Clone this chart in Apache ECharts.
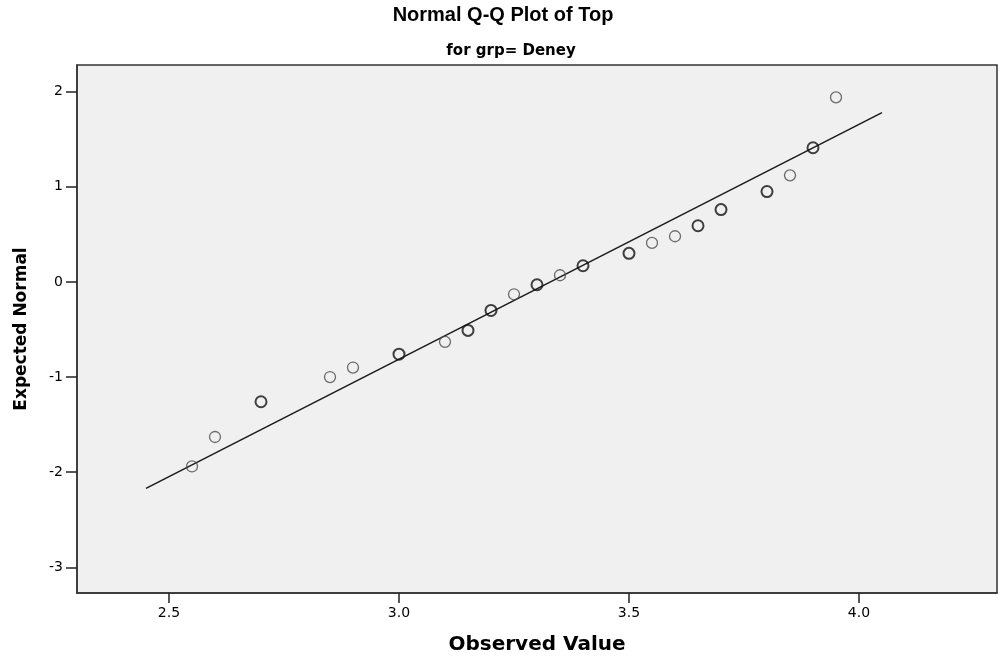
<!DOCTYPE html>
<html>
<head>
<meta charset="utf-8">
<script src="https://cdn.jsdelivr.net/npm/echarts@6/dist/echarts.min.js"></script>
<style>
  html, body { margin: 0; padding: 0; background: #ffffff; }
  #chart { width: 1000px; height: 666px; }
</style>
</head>
<body>
<div id="chart"></div>
<script>
// Observed values of Top (grp = Deney) and their expected normal scores
const observed = [2.55, 2.60, 2.70, 2.85, 2.90, 3.00, 3.10, 3.15, 3.20, 3.25, 3.30,
                  3.35, 3.40, 3.50, 3.55, 3.60, 3.65, 3.70, 3.80, 3.85, 3.90, 3.95];
const expectedNormal = [-1.94, -1.63, -1.26, -1.00, -0.90, -0.76, -0.63, -0.51, -0.30, -0.13, -0.03,
                        0.07, 0.17, 0.30, 0.41, 0.48, 0.59, 0.76, 0.95, 1.12, 1.41, 1.94];
// How many cases share each observed value (tied cases overprint and look darker)
const tieCount = [1, 1, 2, 1, 1, 2, 1, 2, 2, 1, 2,
                  1, 2, 2, 1, 1, 2, 2, 2, 1, 2, 1];

// Reference line end points
const refLineX = [2.45, 4.05];
const refLineY = [-2.17, 1.78];

// Tick labels
const xTicks = [2.5, 3.0, 3.5, 4.0];
const yTicks = [-3, -2, -1, 0, 1, 2];

const pointData = observed.map((x, i) => ({
  value: [x, expectedNormal[i]],
  itemStyle: {
    borderColor: tieCount[i] > 1 ? '#111111' : '#4a4a4a',
    borderWidth: tieCount[i] > 1 ? 2 : 1.3
  }
}));
const lineData = refLineX.map((x, i) => [x, refLineY[i]]);

const chart = echarts.init(document.getElementById('chart'), null, { renderer: 'canvas' });
const arial = 'Arial, "Liberation Sans", sans-serif';
const dejavu = '"DejaVu Sans", Verdana, sans-serif';

chart.setOption({
  animation: false,
  backgroundColor: '#ffffff',
  title: [
    {
      text: 'Normal Q-Q Plot of Top',
      left: 498, top: 0, textAlign: 'center',
      textStyle: { fontFamily: arial, fontWeight: 'bold', fontSize: 20, color: '#000' }
    },
    {
      text: 'for grp= Deney',
      left: 506, top: 39, textAlign: 'center',
      textStyle: { fontFamily: dejavu, fontWeight: 'bold', fontSize: 15, color: '#000' }
    }
  ],
  grid: {
    left: 77, top: 65, right: 3, bottom: 73,
    show: true,
    backgroundColor: '#f0f0f0',
    borderColor: '#333333',
    borderWidth: 1.5
  },
  xAxis: {
    type: 'value',
    min: 2.3, max: 4.3,
    name: 'Observed Value',
    nameLocation: 'middle',
    nameGap: 42,
    nameTextStyle: { fontFamily: dejavu, fontWeight: 'bold', fontSize: 20, color: '#000' },
    axisLine: { show: true, onZero: false, lineStyle: { color: '#333333', width: 1.5 } },
    axisTick: { show: true, length: 10, customValues: xTicks, lineStyle: { color: '#222', width: 1.5 } },
    axisLabel: {
      customValues: xTicks,
      formatter: v => v.toFixed(1),
      fontFamily: dejavu, fontSize: 14, color: '#000', margin: 13
    },
    splitLine: { show: false }
  },
  yAxis: {
    type: 'value',
    min: -3.27, max: 2.28,
    name: 'Expected Normal',
    nameLocation: 'middle',
    nameGap: 47,
    nameRotate: 90,
    nameTextStyle: { fontFamily: dejavu, fontWeight: 'bold', fontSize: 17, color: '#000' },
    axisLine: { show: true, onZero: false, lineStyle: { color: '#333333', width: 1.5 } },
    axisTick: { show: true, length: 11, customValues: yTicks, lineStyle: { color: '#222', width: 1.5 } },
    axisLabel: {
      customValues: yTicks,
      formatter: v => String(v),
      fontFamily: dejavu, fontSize: 14, color: '#000', margin: 14
    },
    splitLine: { show: false }
  },
  series: [
    {
      type: 'line',
      data: lineData,
      showSymbol: false,
      symbol: 'none',
      lineStyle: { color: '#1a1a1a', width: 1.5 },
      silent: true,
      z: 2
    },
    {
      type: 'scatter',
      data: pointData,
      symbol: 'circle',
      symbolSize: 11,
      itemStyle: { color: 'rgba(0,0,0,0)' },
      z: 3
    }
  ]
});
</script>
</body>
</html>
